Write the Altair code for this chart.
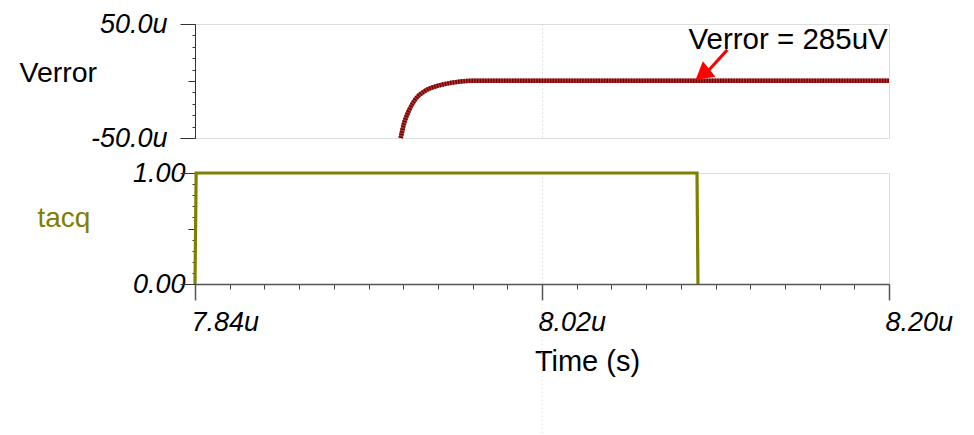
import altair as alt
import pandas as pd

# ---------------- data ----------------
verror_t = [7.9467, 7.9484, 7.9510, 7.9545, 7.9597, 7.9666, 7.9753, 7.9839, 8.20]
verror_v = [-50.0, -37.4, -25.8, -15.6, -8.3, -3.9, -1.0, 0.3, 0.3]

tacq_t = [7.84, 7.8406, 8.1004, 8.1009]
tacq_v = [0.0, 1.0, 1.0, 0.0]

x_major = [7.84, 8.02, 8.20]
x_minor = [7.84, 7.858, 7.876, 7.894, 7.912, 7.93, 7.948, 7.966, 7.984, 8.002,
           8.02, 8.038, 8.056, 8.074, 8.092, 8.11, 8.128, 8.146, 8.164, 8.182, 8.20]
x_grid = [8.02]

y_top_minor = [-50, -40, -30, -20, -10, 0, 10, 20, 30, 40, 50]
y_top_major = [-50, 50]
y_top_mid = [0]
y_bot_minor = [0.0, 0.1, 0.2, 0.3, 0.4, 0.5, 0.6, 0.7, 0.8, 0.9, 1.0]
y_bot_major = [0.0, 1.0]
y_bot_mid = [0.5]

note_text = ["Verror = 285uV"]
note_t = [8.0960]
note_v = [28.4]
arrow_t = [8.1161]
arrow_v = [27.3]
arrow_t2 = [8.1060]
arrow_v2 = [8.5]
head_t = [8.1032]
head_v = [5.8]

FONT = "Liberation Sans"
W, H1, H2 = 694, 114, 111

verror_df = pd.DataFrame({"t": verror_t, "v": verror_v})
tacq_df = pd.DataFrame({"t": tacq_t, "v": tacq_v})
note_df = pd.DataFrame({"label": note_text, "t": note_t, "v": note_v})
arrow_df = pd.DataFrame({"t": arrow_t, "v": arrow_v, "t2": arrow_t2, "v2": arrow_v2})
head_df = pd.DataFrame({"t": head_t, "v": head_v})
grid_df = pd.DataFrame({"t": x_grid})

xs = alt.Scale(domain=[7.84, 8.20], nice=False, zero=False)
ys_top = alt.Scale(domain=[-50, 50], nice=False, zero=False)
ys_bot = alt.Scale(domain=[0, 1], nice=False, zero=False)

label_common = dict(labelFont=FONT, labelFontSize=27, labelFontStyle="italic", labelColor="black")
title_common = dict(titleFont=FONT, titleFontWeight="normal",
                    titleAngle=0, titleAlign="left", titleBaseline="alphabetic")

# ---- top panel axes ----
ax_top_grid = alt.Axis(orient="bottom", values=x_grid, grid=True, gridDash=[1, 3],
                       gridColor="#c8c8c8", ticks=False, labels=False, domain=False, title=None)
ax_top_y_lab = alt.Axis(orient="left", values=y_top_minor, tickSize=3, tickColor="#333",
                        domain=True, domainColor="#333", grid=False,
                        labelExpr="(datum.value == 50 || datum.value == -50) ? (datum.value < 0 ? '-' : '') + format(abs(datum.value), '.1f') + 'u' : ''",
                        labelPadding=25, labelBaseline="middle",
                        title="Verror", titleX=-176, titleY=57, titleColor="black", titleFontSize=28.5,
                        **label_common, **title_common)
ax_top_y_major = alt.Axis(orient="left", values=y_top_major, tickSize=15, tickColor="#333",
                          labels=False, domain=False, grid=False, title=None)
ax_top_y_mid = alt.Axis(orient="left", values=y_top_mid, tickSize=7, tickColor="#333",
                        labels=False, domain=False, grid=False, title=None)

verror_base = alt.Chart(verror_df).mark_line(color="#b03a3a", strokeWidth=4.5, interpolate="monotone").encode(
    x=alt.X("t:Q", scale=xs, axis=ax_top_grid),
    y=alt.Y("v:Q", scale=ys_top, axis=ax_top_y_lab),
)
verror_hatch = alt.Chart(verror_df).mark_line(color="#7a0000", strokeWidth=4.5, strokeDash=[1.5, 1.2],
                                              interpolate="monotone").encode(
    x=alt.X("t:Q", scale=xs, axis=None),
    y=alt.Y("v:Q", scale=ys_top, axis=ax_top_y_major),
)
note = alt.Chart(note_df).mark_text(font=FONT, fontSize=29.5, align="left", baseline="alphabetic",
                                    color="black").encode(
    x=alt.X("t:Q", scale=xs, axis=None),
    y=alt.Y("v:Q", scale=ys_top, axis=ax_top_y_mid),
    text="label:N",
)
arrow = alt.Chart(arrow_df).mark_rule(color="#ff0000", strokeWidth=3).encode(
    x=alt.X("t:Q", scale=xs, axis=None),
    y=alt.Y("v:Q", scale=ys_top, axis=None),
    x2="t2:Q",
    y2="v2:Q",
)
head = alt.Chart(head_df).mark_point(shape="triangle-up", filled=True, color="#ff0000", opacity=1,
                                     size=400, angle=231).encode(
    x=alt.X("t:Q", scale=xs, axis=None),
    y=alt.Y("v:Q", scale=ys_top, axis=None),
)

top = alt.layer(verror_base, verror_hatch, note, arrow, head).resolve_axis(
    x="independent", y="independent").properties(width=W, height=H1)

# ---- bottom panel axes ----
ax_bot_x_minor = alt.Axis(orient="bottom", values=x_minor, tickSize=5, tickColor="#444",
                          labels=False, domain=True, domainColor="#555", domainWidth=1.5,
                          grid=False, title=None)
ax_bot_x_major = alt.Axis(orient="bottom", values=x_major, tickSize=16, tickColor="#555", tickWidth=1.5,
                          domain=False, grid=True, gridDash=[1, 3], gridColor="#c8c8c8",
                          gridOpacity={"condition": {"test": "datum.value > 7.9 && datum.value < 8.1", "value": 1},
                                       "value": 0},
                          labelExpr="format(datum.value, '.2f') + 'u'", labelAlign="left",
                          labelBaseline="alphabetic", labelPadding=30, labelOffset=-4,
                          labelFlush=False, labelOverlap=False,
                          title="Time (s)", titleX=392, titleY=86, titleColor="black",
                          titleFont=FONT, titleFontSize=29, titleFontWeight="normal",
                          titleAlign="center", titleBaseline="alphabetic",
                          **label_common)
ax_bot_y_lab = alt.Axis(orient="left", values=y_bot_minor, tickSize=3, tickColor="#333",
                        domain=True, domainColor="#333", grid=False,
                        labelExpr="(datum.value == 0 || datum.value == 1) ? format(datum.value, '.2f') : ''",
                        labelPadding=7, labelBaseline="middle",
                        title="tacq", titleX=-158, titleY=53, titleColor="#808000", titleFontSize=28,
                        **label_common, **title_common)
ax_bot_y_major = alt.Axis(orient="left", values=y_bot_major, tickSize=15, tickColor="#333",
                          labels=False, domain=False, grid=False, title=None)
ax_bot_y_mid = alt.Axis(orient="left", values=y_bot_mid, tickSize=7, tickColor="#333",
                        labels=False, domain=False, grid=False, title=None)

tacq_line = alt.Chart(tacq_df).mark_line(color="#808000", strokeWidth=3.2).encode(
    x=alt.X("t:Q", scale=xs, axis=ax_bot_x_minor),
    y=alt.Y("v:Q", scale=ys_bot, axis=ax_bot_y_lab),
)
tacq_ax2 = alt.Chart(tacq_df).mark_line(opacity=0).encode(
    x=alt.X("t:Q", scale=xs, axis=ax_bot_x_major),
    y=alt.Y("v:Q", scale=ys_bot, axis=ax_bot_y_major),
)
tacq_ax3 = alt.Chart(tacq_df).mark_line(opacity=0).encode(
    x=alt.X("t:Q", scale=xs, axis=None),
    y=alt.Y("v:Q", scale=ys_bot, axis=ax_bot_y_mid),
)
grid_ext = alt.Chart(grid_df).mark_rule(color="#dddddd", strokeDash=[1, 3], strokeWidth=1).encode(
    x=alt.X("t:Q", scale=xs, axis=None),
    y=alt.value(H2 + 16),
    y2=alt.value(H2 + 150),
)

bottom = alt.layer(tacq_line, tacq_ax2, tacq_ax3, grid_ext).resolve_axis(
    x="independent", y="independent").properties(width=W, height=H2)

chart = alt.vconcat(top, bottom, spacing=6).properties(
    padding={"left": 10, "top": 1, "right": 5, "bottom": 0}
).configure_view(stroke="#c8c8c8").configure(background="white")

chart.save("out.html", embed_options={"renderer": "svg", "actions": False})
